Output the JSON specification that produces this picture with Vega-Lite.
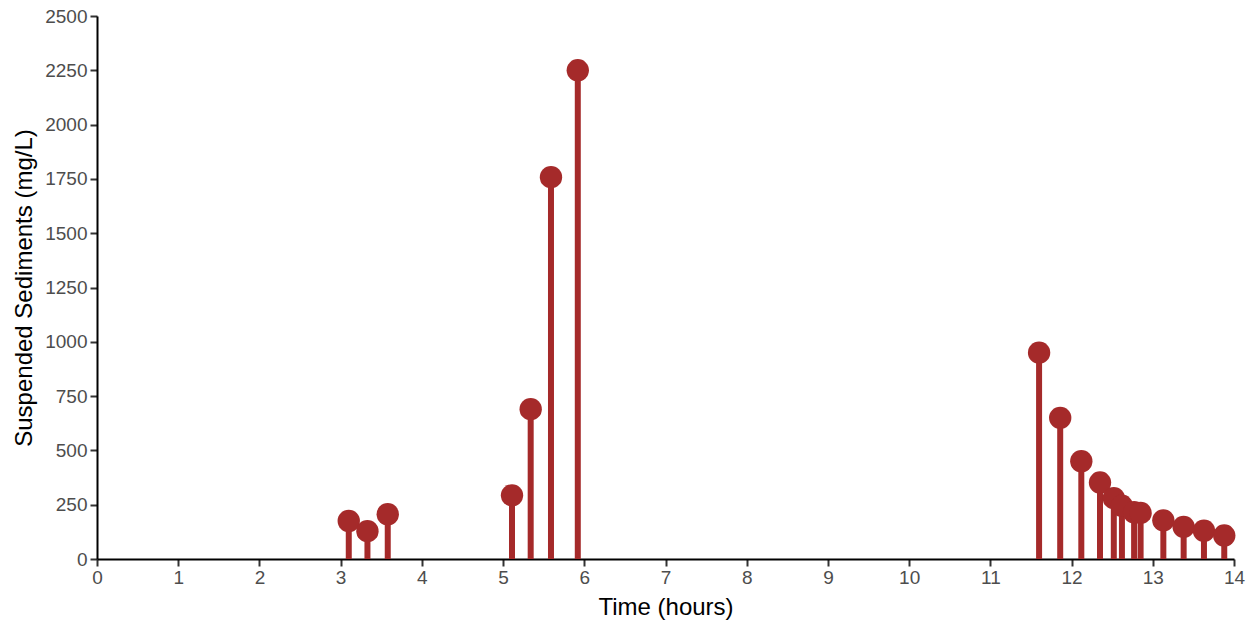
{
  "$schema": "https://vega.github.io/schema/vega-lite/v6.json",
  "autosize": {"type": "none"},
  "padding": {"left": 97, "top": 16, "right": 26, "bottom": 63},
  "width": 1137,
  "height": 543,
  "config": {
    "view": {"stroke": null},
    "font": "Liberation Sans",
    "axis": {
      "grid": false,
      "domainColor": "#000000",
      "domainWidth": 2,
      "tickColor": "#333333",
      "tickWidth": 2,
      "tickSize": 7,
      "labelFont": "Liberation Sans",
      "labelFontSize": 19,
      "labelColor": "#4d4d4d",
      "titleFont": "Liberation Sans",
      "titleFontSize": 24,
      "titleFontWeight": "normal",
      "titleColor": "#000000"
    }
  },
  "data": {
    "values": [
      {"time": 3.1, "ss": 175},
      {"time": 3.33, "ss": 128},
      {"time": 3.58, "ss": 206},
      {"time": 5.11, "ss": 293},
      {"time": 5.34, "ss": 690},
      {"time": 5.59, "ss": 1758},
      {"time": 5.92, "ss": 2250},
      {"time": 11.6, "ss": 950},
      {"time": 11.86, "ss": 650},
      {"time": 12.12, "ss": 450},
      {"time": 12.35, "ss": 352},
      {"time": 12.52, "ss": 280},
      {"time": 12.62, "ss": 245},
      {"time": 12.77, "ss": 215},
      {"time": 12.85, "ss": 212},
      {"time": 13.13, "ss": 178},
      {"time": 13.38, "ss": 148},
      {"time": 13.63, "ss": 130},
      {"time": 13.88, "ss": 108}
    ]
  },
  "encoding": {
    "x": {
      "field": "time",
      "type": "quantitative",
      "title": "Time (hours)",
      "scale": {"domain": [0, 14], "nice": false, "zero": true},
      "axis": {"values": [0,1,2,3,4,5,6,7,8,9,10,11,12,13,14], "format": "d", "labelPadding": 2, "titlePadding": 8, "labelFlush": false}
    },
    "y": {
      "field": "ss",
      "type": "quantitative",
      "title": "Suspended Sediments (mg/L)",
      "scale": {"domain": [0, 2500], "nice": false},
      "axis": {"values": [0,250,500,750,1000,1250,1500,1750,2000,2250,2500], "format": "d", "labelPadding": 3, "titlePadding": 8, "labelFlush": false}
    }
  },
  "layer": [
    {
      "mark": {"type": "rule", "color": "#a52a2a", "strokeWidth": 6},
      "encoding": {"y2": {"datum": 0}}
    },
    {
      "mark": {"type": "circle", "color": "#a52a2a", "opacity": 1, "size": 500}
    }
  ]
}
